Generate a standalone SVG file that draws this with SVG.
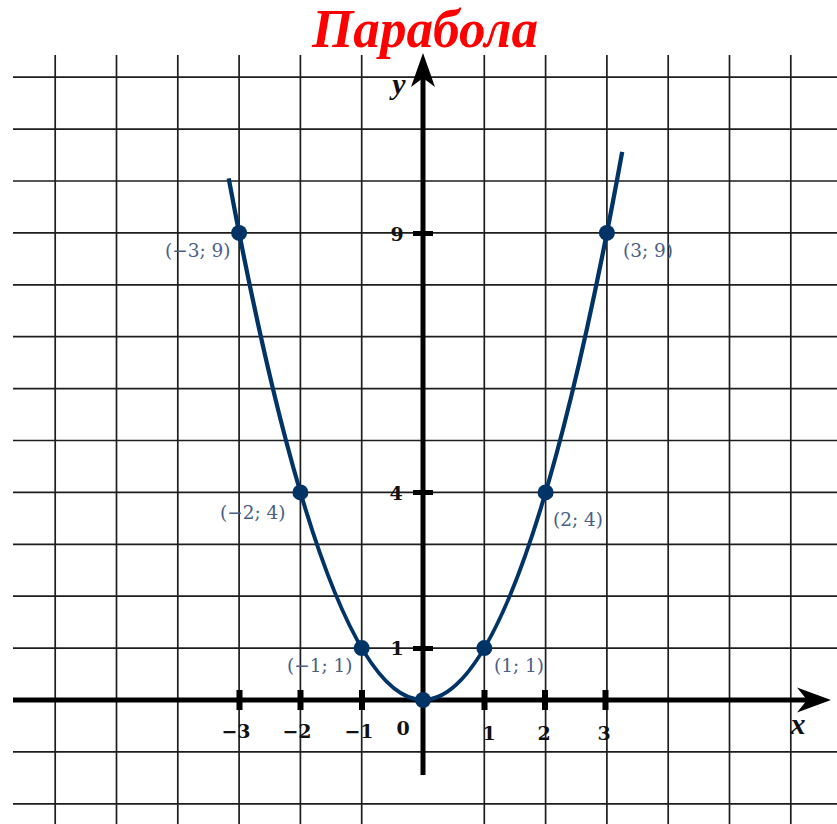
<svg xmlns="http://www.w3.org/2000/svg" width="837" height="824" viewBox="0 0 837 824">
<style>
.g{stroke:#1e1e1e;stroke-width:1.7;fill:none}
.ax{stroke:#000;stroke-width:5;fill:none}
.tk{fill:#000}
.num{font-family:"DejaVu Serif","Liberation Serif",serif;font-weight:bold;font-size:19px;fill:#111;text-anchor:middle}
.lab{font-family:"DejaVu Serif","Liberation Serif",serif;font-size:18.5px;fill:#4a6085}
.dot{fill:#003366}
.var{font-family:"Liberation Serif",serif;font-weight:bold;font-style:italic;font-size:30px;fill:#111;text-anchor:middle}
</style>
<rect width="837" height="824" fill="#fff"/>
<g id="grid">
<path class="g" d="M55.2 55V824M116.5 55V824M177.8 55V824M239.1 55V824M300.4 55V824M361.7 55V824M484.3 55V824M545.6 55V824M606.9 55V824M668.2 55V824M729.5 55V824M790.8 55V824"/>
<path class="g" d="M13 77.2H837M13 129.1H837M13 181H837M13 232.9H837M13 284.8H837M13 336.7H837M13 388.6H837M13 440.5H837M13 492.4H837M13 544.3H837M13 596.2H837M13 648.1H837M13 751.9H837M13 803.8H837"/>
</g>
<g id="axes">
<path class="ax" d="M13 700H810"/>
<path d="M831 700L797 687.5L807 700L797 712.5Z" fill="#000"/>
<path class="ax" d="M423 775V75"/>
<path d="M423 53L411 87L423 78L435 87Z" fill="#000"/>
<g class="tk">
<rect x="236.5" y="690" width="6" height="20"/>
<rect x="297.5" y="690" width="6" height="20"/>
<rect x="359" y="690" width="6" height="20"/>
<rect x="481.5" y="690" width="6" height="20"/>
<rect x="542" y="690" width="6" height="20"/>
<rect x="602.5" y="690" width="6" height="20"/>
<rect x="413" y="231" width="20" height="5"/>
<rect x="413" y="490" width="20" height="5"/>
<rect x="413" y="646" width="20" height="5"/>
</g>
<text class="num" x="236" y="738">−3</text>
<text class="num" x="297" y="738">−2</text>
<text class="num" x="359" y="738">−1</text>
<text class="num" x="403" y="735">0</text>
<text class="num" x="489" y="740">1</text>
<text class="num" x="544" y="740">2</text>
<text class="num" x="604" y="740">3</text>
<text class="num" x="397" y="241">9</text>
<text class="num" x="396" y="500">4</text>
<text class="num" x="397" y="655">1</text>
<text class="var" x="798" y="734">x</text>
<text class="var" x="399" y="94">y</text>
</g>
<text x="425" y="47" font-family="'Liberation Serif',serif" font-weight="bold" font-style="italic" font-size="54" fill="#ff0000" text-anchor="middle" textLength="226" lengthAdjust="spacingAndGlyphs">Парабола</text>
<g id="curve">
<path d="M228.7 178.4Q425.5 1234.6 622.2 151.8" stroke="#003366" stroke-width="4.3" fill="none"/>
</g>
<g id="p-3"><circle class="dot" cx="239.1" cy="232.9" r="8"/><text class="lab" x="165" y="257">(−3; 9)</text></g>
<g id="p-2"><circle class="dot" cx="300.4" cy="492.4" r="8"/><text class="lab" x="220" y="519">(−2; 4)</text></g>
<g id="p-1"><circle class="dot" cx="361.7" cy="648.1" r="8"/><text class="lab" x="287" y="672">(−1; 1)</text></g>
<g id="p0"><circle class="dot" cx="423" cy="700" r="8"/></g>
<g id="p1"><circle class="dot" cx="484.3" cy="648.1" r="8"/><text class="lab" x="494" y="672">(1; 1)</text></g>
<g id="p2"><circle class="dot" cx="545.6" cy="492.4" r="8"/><text class="lab" x="553" y="526">(2; 4)</text></g>
<g id="p3"><circle class="dot" cx="606.9" cy="232.9" r="8"/><text class="lab" x="623" y="257">(3; 9)</text></g>
</svg>
